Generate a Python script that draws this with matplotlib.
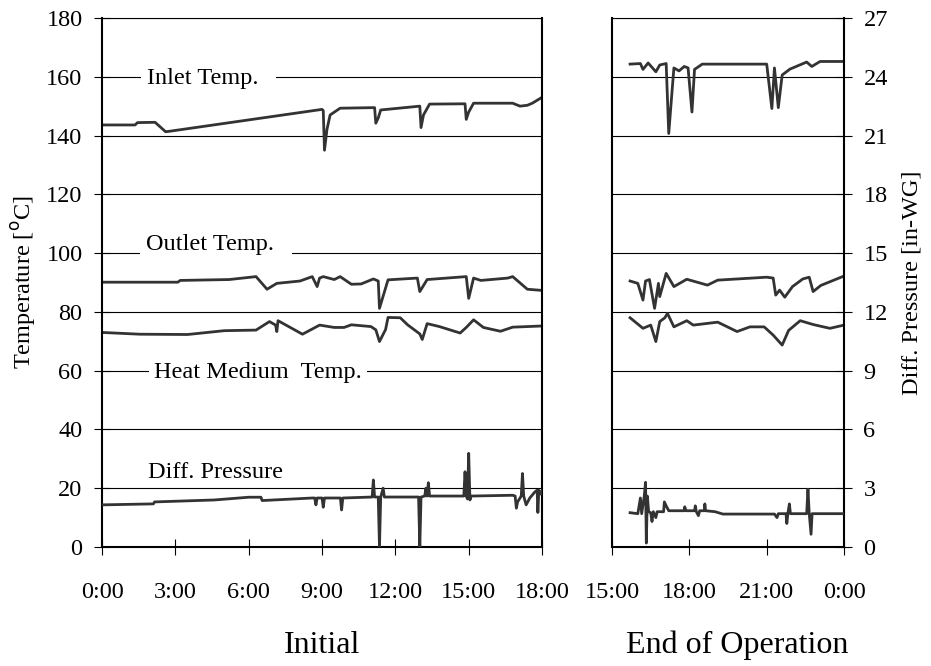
import matplotlib
matplotlib.use('Agg')
import matplotlib.pyplot as plt

plt.rcParams['font.family'] = ['Liberation Serif', 'DejaVu Serif']

# ---- Initial period (hours from 0:00) ----
inlet_t = [0, 1.35, 1.45, 2.17, 2.6, 2.8, 9.0, 9.05, 9.1, 9.2, 9.33, 9.74, 11.15, 11.2, 11.3, 11.4,
           13.0, 13.05, 13.15, 13.4, 14.85, 14.9, 15.0, 15.2, 16.8, 17.1, 17.4, 17.6, 18.0]
inlet_v = [143.6, 143.6, 144.4, 144.5, 141.3, 141.5, 148.9, 148.5, 135, 142, 147, 149.3, 149.5, 144.2, 146, 148.7,
           150, 142.7, 147, 150.7, 150.8, 145.5, 148, 151, 151, 150, 150.3, 151, 153]

outlet_t = [0, 3.1, 3.2, 5.2, 6.3, 6.75, 7.15, 8.1, 8.6, 8.8, 8.9, 9.05, 9.5, 9.74, 10.2, 10.6, 11.1, 11.3,
            11.35, 11.7, 12.9, 13.0, 13.3, 14.9, 15.0, 15.2, 15.5, 16.6, 16.8, 17.4, 18.0]
outlet_v = [90.1, 90.1, 90.7, 91, 92, 87.7, 89.7, 90.5, 92, 88.6, 91.5, 92, 91, 92, 89.4, 89.5, 91.2, 90.5,
            81.2, 90.9, 91.5, 86.9, 91, 92, 84.6, 91.5, 90.7, 91.5, 92, 87.7, 87.3]

heat_t = [0, 1.55, 3.5, 5.0, 6.3, 6.85, 7.1, 7.15, 7.2, 8.2, 8.9, 9.5, 9.9, 10.2, 11.0, 11.2, 11.35, 11.6,
          11.7, 12.2, 12.5, 13.0, 13.1, 13.3, 13.8, 14.65, 14.9, 15.2, 15.6, 16.3, 16.8, 18.0]
heat_v = [73, 72.4, 72.3, 73.6, 73.8, 76.7, 75.5, 73.3, 77, 72.4, 75.5, 74.7, 74.7, 75.6, 75, 73.9, 69.9, 74,
          78.1, 78, 75.6, 72.5, 70.6, 76, 75, 72.8, 74.7, 77.3, 74.7, 73.4, 74.8, 75.2]

dp_t = [0, 2.1, 2.15, 4.6, 6.0, 6.5, 6.55, 8.6, 8.7, 8.75, 8.8, 9.0, 9.05, 9.1, 9.75, 9.8, 9.85, 11.05,
        11.1, 11.15, 11.3, 11.35, 11.4, 11.5, 11.55, 12.95, 13.0, 13.05, 13.2, 13.25, 13.3, 13.35, 13.4,
        14.8, 14.85, 14.9, 14.95, 15.0, 15.05, 15.1, 16.8, 16.9, 16.95, 17.0, 17.15, 17.2, 17.25, 17.35,
        17.5, 17.7, 17.8, 17.83, 17.87, 17.95, 18.0]
dp_v = [2.15, 2.2, 2.3, 2.40, 2.54, 2.54, 2.37, 2.5, 2.5, 2.15, 2.5, 2.5, 2.03, 2.5, 2.5, 1.89, 2.5, 2.55,
        3.42, 2.55, 2.55, 0, 2.55, 3.0, 2.55, 2.55, 0, 2.55, 2.6, 3.0, 2.6, 3.28, 2.6,
        2.6, 3.84, 2.6, 2.45, 4.78, 2.4, 2.6, 2.64, 2.6, 1.98, 2.3, 2.6, 3.75, 2.6, 2.15,
        2.5, 2.8, 2.9, 1.76, 2.9, 2.7, 2.85]

# ---- End of operation (hours, 24 = 0:00 next day) ----
inlet2_t = [15.7, 16.1, 16.2, 16.4, 16.7, 16.85, 17.1, 17.2, 17.3, 17.4, 17.6, 17.8, 17.95, 18.1, 18.2,
            18.5, 21.0, 21.2, 21.3, 21.45, 21.6, 21.9, 22.55, 22.75, 23.07, 24.0]
inlet2_v = [164.3, 164.5, 162.5, 164.7, 161.7, 164, 164.5, 140.7, 152, 163, 162, 163.5, 163, 148, 162.5,
            164.3, 164.3, 149.2, 163, 149.5, 160.6, 162.6, 165, 163.5, 165.2, 165.2]

outlet2_t = [15.7, 16.0, 16.2, 16.3, 16.45, 16.65, 16.8, 16.85, 17.1, 17.4, 17.9, 18.7, 19.1, 21.0, 21.25,
             21.35, 21.5, 21.7, 22.0, 22.4, 22.65, 22.8, 23.1, 24.0]
outlet2_v = [90.5, 89.7, 84, 90.5, 91, 81.2, 89.7, 85.2, 93.1, 88.6, 91.1, 89.1, 90.8, 91.8, 91.5,
             85.7, 87.4, 85, 88.6, 91.2, 91.8, 86.9, 89, 92.2]

heat2_t = [15.7, 16.2, 16.5, 16.7, 16.85, 17.05, 17.15, 17.4, 17.9, 18.15, 19.1, 19.85, 20.35, 20.9, 21.25,
           21.6, 21.85, 22.3, 22.8, 23.45, 24.0]
heat2_v = [78, 74.4, 75.5, 69.9, 76.7, 78, 79.5, 74.9, 77, 75.5, 76.5, 73.3, 74.9, 74.9, 72.1,
           68.7, 73.7, 77, 75.7, 74.4, 75.5]

dp2_t = [15.7, 16.0, 16.1, 16.15, 16.25, 16.3, 16.33, 16.37, 16.42, 16.5, 16.55, 16.6, 16.7, 16.75, 17.0,
         17.03, 17.1, 17.2, 17.8, 17.82, 17.87, 18.2, 18.23, 18.27, 18.35, 18.4, 18.58, 18.6, 18.63, 19.0,
         19.3, 21.3, 21.4, 21.45, 21.75, 21.78, 21.82, 21.88, 21.92, 22.55, 22.6, 22.65, 22.72, 22.76, 24.0]
dp2_v = [1.75, 1.7, 2.5, 1.7, 2.6, 3.3, 0.2, 2.6, 1.8, 1.75, 1.3, 1.8, 1.5, 1.8, 1.8,
         2.3, 2.1, 1.85, 1.85, 2.05, 1.85, 1.85, 2.1, 1.8, 1.6, 1.85, 1.85, 2.2, 1.85, 1.8,
         1.68, 1.68, 1.5, 1.7, 1.7, 1.2, 1.7, 2.2, 1.7, 1.7, 2.95, 1.7, 0.65, 1.7, 1.7]

temp_ticks = list(range(0, 181, 20))
dp_ticks = list(range(0, 28, 3))
left_xt = [0, 3, 6, 9, 12, 15, 18]
left_xl = ['0:00', '3:00', '6:00', '9:00', '12:00', '15:00', '18:00']
right_xt = [15, 18, 21, 24]
right_xl = ['15:00', '18:00', '21:00', '0:00']

LC = '#333333'
LW = 2.0
FS = 17.5

fig = plt.figure(figsize=(9.31, 6.66), dpi=100)
axL = fig.add_axes([0.1096, 0.1787, 0.4726, 0.7943])
axR = fig.add_axes([0.6574, 0.1787, 0.2492, 0.7943])


def style(ax, xt, xl, xlim):
    ax.set_ylim(0, 180)
    ax.set_xlim(*xlim)
    ax.set_yticks(temp_ticks)
    ax.set_xticks(xt)
    ax.set_xticklabels(xl)
    ax.yaxis.grid(True, color='black', lw=0.8)
    ax.tick_params(direction='inout', length=12, width=0.8, labelsize=FS)
    ax.tick_params(axis='y', pad=8)
    ax.tick_params(axis='x', pad=19)
    for s in ['left', 'right', 'bottom']:
        ax.spines[s].set_linewidth(1.5)
    ax.spines['top'].set_linewidth(0.8)


style(axL, left_xt, left_xl, (0, 18))
style(axR, right_xt, right_xl, (15, 24))

axL.set_ylabel('Temperature [$^{\\rm o}$C]', fontsize=FS, labelpad=6)

for ax, it, iv, ot, ov, ht, hv in [(axL, inlet_t, inlet_v, outlet_t, outlet_v, heat_t, heat_v),
                                   (axR, inlet2_t, inlet2_v, outlet2_t, outlet2_v, heat2_t, heat2_v)]:
    ax.plot(it, iv, color=LC, lw=LW)
    ax.plot(ot, ov, color=LC, lw=LW)
    ax.plot(ht, hv, color=LC, lw=LW)

twL = axL.twinx()
twL.set_ylim(0, 27)
twL.set_yticks([])
twL.plot(dp_t, dp_v, color=LC, lw=LW)
for s in twL.spines.values():
    s.set_visible(False)

twR = axR.twinx()
twR.set_ylim(0, 27)
twR.set_yticks(dp_ticks)
twR.tick_params(direction='inout', length=12, width=0.8, labelsize=FS, pad=8,
                left=False, labelleft=False)
twR.plot(dp2_t, dp2_v, color=LC, lw=LW)
for s in twR.spines.values():
    s.set_visible(False)
twR.set_ylabel('Diff. Pressure [in-WG]', fontsize=FS, labelpad=10)
# twinx switches the left ticks back on, so hide them afterwards
axR.tick_params(axis='y', which='both', left=False, right=False, labelleft=False)

box = dict(facecolor='white', edgecolor='none', pad=4)
axL.text(1.84, 159.5, 'Inlet Temp.  ', fontsize=FS, va='center', ha='left', bbox=box)
axL.text(1.80, 102.8, 'Outlet Temp.  ', fontsize=FS, va='center', ha='left', bbox=box)
axL.text(2.13, 59.5, 'Heat Medium  Temp.', fontsize=FS, va='center', ha='left', bbox=box)
axL.text(1.88, 25.5, 'Diff. Pressure', fontsize=FS, va='center', ha='left')

fig.text(0.346, 0.031, 'Initial', fontsize=23, ha='center', va='center')
fig.text(0.792, 0.031, 'End of Operation', fontsize=23, ha='center', va='center')

fig.savefig('out.png', dpi=100)
